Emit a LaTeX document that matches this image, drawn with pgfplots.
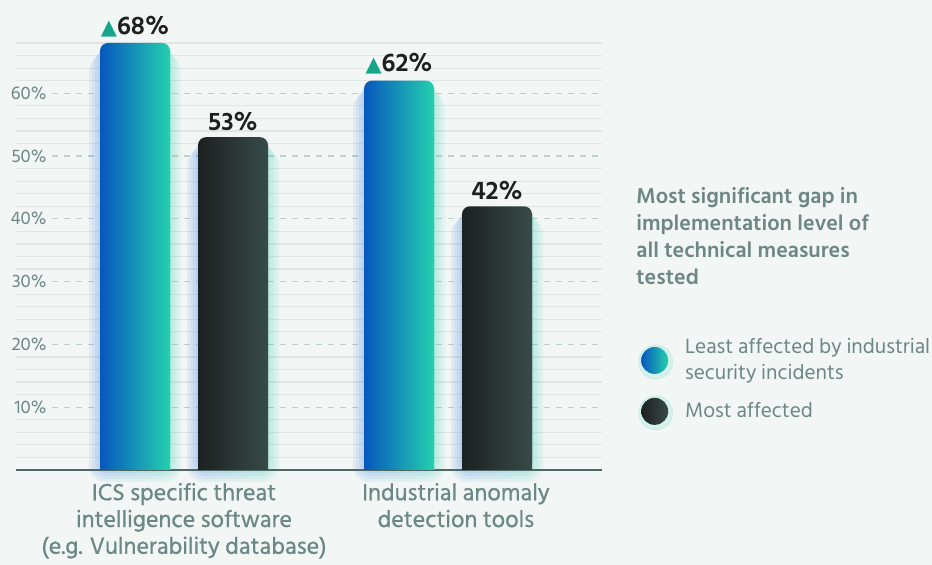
\documentclass[border=0pt]{standalone}
\usepackage{fontspec}
\setmainfont{Hind Siliguri}
\newfontfamily\medfont{Hind Siliguri}[FakeBold=0.7]
\newfontfamily\symfont{DejaVu Sans}
\usepackage{pgfplots}
\usepackage{pgfplotstable}
\pgfplotsset{compat=1.18}

\definecolor{bg}{HTML}{F2F6F5}
\definecolor{blueL}{HTML}{0757BC}
\definecolor{tealR}{HTML}{24D0AE}
\definecolor{darkL}{HTML}{1D2020}
\definecolor{darkR}{HTML}{374B49}
\definecolor{gridminor}{HTML}{DFE6E4}
\definecolor{griddash}{HTML}{BDCFCF}
\definecolor{axisline}{HTML}{4E6866}
\definecolor{ticktext}{HTML}{6D8785}
\definecolor{labtext}{HTML}{6A8886}
\definecolor{numtext}{HTML}{1E1F1F}
\definecolor{tri}{HTML}{14A58B}
\definecolor{glowL}{HTML}{3C7EE6}
\definecolor{glowR}{HTML}{3AD8B8}

% share of organisations with the measure implemented (%)
\pgfplotstableread{
pos least most
0   68    53
1   62    42
}\gaps

\tikzset{valuelabel/.style={font=\bfseries\fontsize{13}{13}\selectfont, text=numtext, inner sep=3pt}}
\pgfplotsset{
  gapframe/.style={
    scale only axis, width=293pt, height=213.5pt,
    at={(8pt,47.5pt)}, anchor=south west,
    xmin=-0.6364, xmax=1.5833, ymin=0, ymax=68,
    /pgf/number format/assume math mode=true,
  },
  glow/.style={ybar, draw=none, left color=glowL, right color=glowR,
    fill opacity=0.085, forget plot},
  barL/.style={ybar, bar width=35pt, bar shift=-24.5pt, draw=none,
    left color=blueL, right color=tealR, forget plot},
  barM/.style={ybar, bar width=35pt, bar shift=24.5pt, draw=none,
    left color=darkL, right color=darkR, forget plot},
}

\begin{document}
\begin{tikzpicture}
\fill[bg] (0,0) rectangle (466pt,282.5pt);
\path[use as bounding box] (0,0) rectangle (466pt,282.5pt);

% grid, ticks, glow and value labels
\begin{axis}[gapframe, clip=false,
  axis line style={draw=none},
  major tick length=0pt, minor tick length=0pt,
  xtick={0,1.03},
  xticklabels={{ICS specific threat\\intelligence software\\(e.g. Vulnerability database)},
               {Industrial anomaly\\detection tools}},
  xticklabel style={align=center, anchor=north, yshift=-3pt, text=labtext,
    font=\medfont\fontsize{12}{13.4}\selectfont},
  ytick={10,20,...,60},
  yticklabel={\pgfmathprintnumber{\tick}\%},
  yticklabel style={anchor=east, xshift=17.5pt, fill=bg, inner xsep=2pt, inner ysep=0.5pt,
    text=ticktext, font=\fontsize{9.3}{10}\selectfont},
  minor ytick={2,4,6,8,12,14,16,18,22,24,26,28,32,34,36,38,42,44,46,48,52,54,56,58,62,64,66,68},
  ymajorgrids, yminorgrids,
  major grid style={griddash, dash pattern=on 3pt off 3pt, line width=0.6pt},
  minor grid style={gridminor, line width=0.6pt},
]
\pgfplotsinvokeforeach{0,1}{
  \addplot[glow, bar width=37pt, bar shift=-24.5pt, rounded corners=5pt, yshift=-1.5pt,
    restrict x to domain=#1:#1] table[x=pos,y=least]\gaps;
  \addplot[glow, bar width=40pt, bar shift=-24.5pt, rounded corners=6pt, yshift=-3pt,
    restrict x to domain=#1:#1] table[x=pos,y=least]\gaps;
  \addplot[glow, bar width=43pt, bar shift=-24.5pt, rounded corners=7pt, yshift=-4.5pt,
    restrict x to domain=#1:#1] table[x=pos,y=least]\gaps;
  \addplot[glow, bar width=46pt, bar shift=-24.5pt, rounded corners=8pt, yshift=-6pt,
    restrict x to domain=#1:#1] table[x=pos,y=least]\gaps;
  \addplot[glow, bar width=37pt, bar shift=24.5pt, rounded corners=5pt, yshift=-1.5pt,
    restrict x to domain=#1:#1] table[x=pos,y=most]\gaps;
  \addplot[glow, bar width=40pt, bar shift=24.5pt, rounded corners=6pt, yshift=-3pt,
    restrict x to domain=#1:#1] table[x=pos,y=most]\gaps;
  \addplot[glow, bar width=43pt, bar shift=24.5pt, rounded corners=7pt, yshift=-4.5pt,
    restrict x to domain=#1:#1] table[x=pos,y=most]\gaps;
  \addplot[glow, bar width=46pt, bar shift=24.5pt, rounded corners=8pt, yshift=-6pt,
    restrict x to domain=#1:#1] table[x=pos,y=most]\gaps;
}

% value labels
\addplot[ybar, bar width=35pt, bar shift=-24.5pt, draw=none, fill=none, forget plot,
  nodes near coords={\textcolor{tri}{\symfont\fontsize{10.5}{10.5}\selectfont ▲}\pgfmathprintnumber{\pgfplotspointmeta}\%},
  nodes near coords style={valuelabel, xshift=-24.5pt}]
  table[x=pos,y=least]\gaps;
\addplot[ybar, bar width=35pt, bar shift=24.5pt, draw=none, fill=none, forget plot,
  nodes near coords={\pgfmathprintnumber{\pgfplotspointmeta}\%},
  nodes near coords style={valuelabel, xshift=24.5pt}]
  table[x=pos,y=most]\gaps;
\end{axis}

% bars and baseline
\begin{axis}[gapframe,
  axis x line=bottom, axis y line=none,
  xtick=\empty, ytick=\empty,
  x axis line style={axisline, line width=1pt, -},
  legend style={at={(1.051,0.328)}, anchor=north west, draw=none, fill=none,
    cells={align=left, anchor=west}, text=ticktext,
    font=\fontsize{10.6}{13}\selectfont, row sep=4.5pt},
]
\pgfplotsinvokeforeach{0,1}{
  \addplot[barL, rounded corners=4pt, restrict x to domain=#1:#1] table[x=pos,y=least]\gaps;
  \addplot[barL, yshift=-4pt, restrict x to domain=#1:#1] table[x=pos,y=least]\gaps;
  \addplot[barM, rounded corners=4pt, restrict x to domain=#1:#1] table[x=pos,y=most]\gaps;
  \addplot[barM, yshift=-4pt, restrict x to domain=#1:#1] table[x=pos,y=most]\gaps;
}

\addlegendimage{legend image code/.code={
  \fill[glowR, opacity=0.15] (0.5pt,-0.8pt) circle (8.5pt);
  \shade[draw=none, left color=blueL, right color=tealR] (0pt,0pt) circle (6.75pt); \path (13pt,0pt);}}
\addlegendentry{Least affected by industrial\\security incidents}
\addlegendimage{legend image code/.code={
  \fill[glowR, opacity=0.15] (0.5pt,-0.8pt) circle (8.5pt);
  \shade[draw=none, left color=darkL, right color=darkR] (0pt,0pt) circle (6.75pt); \path (13pt,0pt);}}
\addlegendentry{Most affected}
\end{axis}

\node[anchor=north west, align=left, inner sep=0pt, text=ticktext,
  font=\bfseries\fontsize{11}{13.5}\selectfont] at (318pt,189pt)
  {Most significant gap in\\implementation level of\\all technical measures\\tested};
\end{tikzpicture}
\end{document}
